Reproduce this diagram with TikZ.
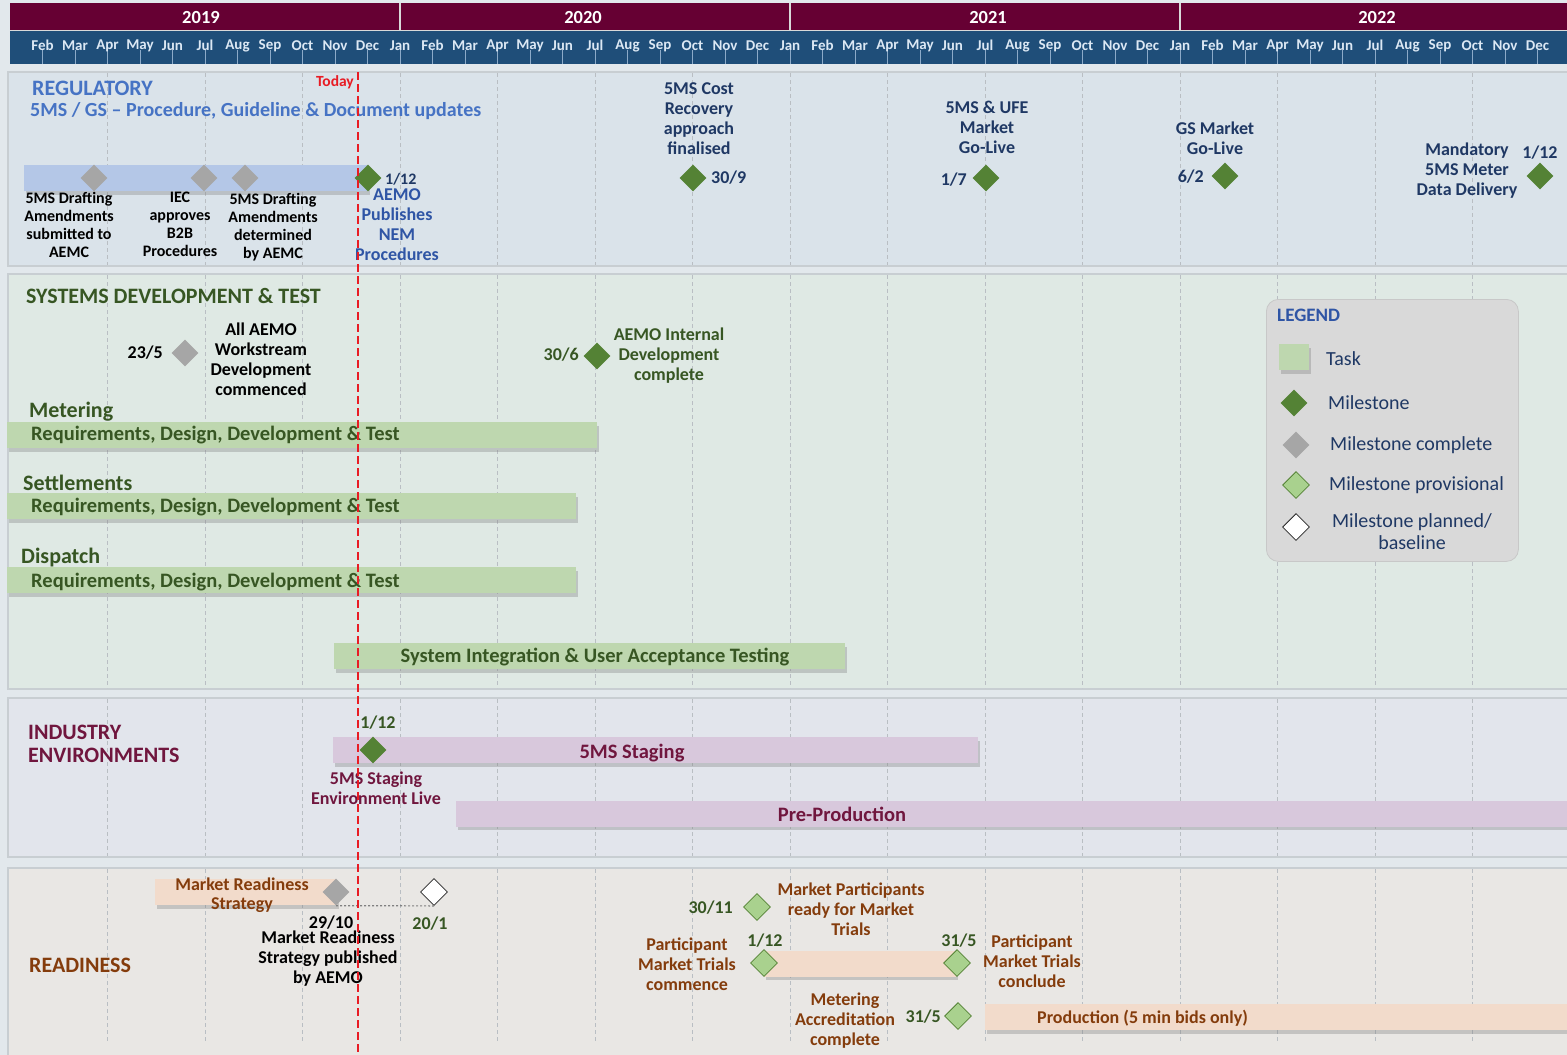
\documentclass[tikz,border=0pt]{standalone}
\usepackage{fontspec}
\setmainfont{Carlito}
\usetikzlibrary{shapes.geometric,shadows}

\definecolor{pagebg}{RGB}{226,232,236}
\definecolor{yearbar}{RGB}{102,0,51}
\definecolor{monthbar}{RGB}{31,78,121}
\definecolor{monthtext}{RGB}{220,232,244}
\definecolor{monthtick}{RGB}{140,170,200}
\definecolor{regfill}{RGB}{218,227,234}
\definecolor{sysfill}{RGB}{223,233,228}
\definecolor{indfill}{RGB}{226,229,236}
\definecolor{rdyfill}{RGB}{233,231,228}
\definecolor{laneline}{RGB}{200,206,210}
\definecolor{gridline}{RGB}{185,190,195}
\definecolor{todayred}{RGB}{232,28,36}
\definecolor{regblue}{RGB}{70,115,196}
\definecolor{pubblue}{RGB}{47,85,165}
\definecolor{navy}{RGB}{31,56,100}
\definecolor{dkgreen}{RGB}{55,86,35}
\definecolor{txtmaroon}{RGB}{112,22,62}
\definecolor{txtbrown}{RGB}{132,60,12}
\definecolor{msgreen}{RGB}{84,130,53}
\definecolor{msgrey}{RGB}{166,166,166}
\definecolor{provgreen}{RGB}{169,209,142}
\definecolor{bluebar}{RGB}{180,199,231}
\definecolor{greenbar}{RGB}{190,215,175}
\definecolor{lilacbar}{RGB}{216,200,220}
\definecolor{peachbar}{RGB}{242,219,203}
\definecolor{legendfill}{RGB}{217,217,217}
\definecolor{legline}{RGB}{200,200,200}

\begin{document}
\begin{tikzpicture}[x=1pt,y=-1pt,
  every node/.style={inner sep=0pt,align=center},
  head/.style={font=\bfseries\fontsize{22}{23}\selectfont,anchor=west,align=left},
  lbl/.style={font=\bfseries\fontsize{18}{20}\selectfont},
  small/.style={font=\bfseries\fontsize{16}{18}\selectfont},
  datelbl/.style={font=\bfseries\fontsize{18}{20}\selectfont},
  barlbl/.style={font=\bfseries\fontsize{20.5}{22}\selectfont},
  legtext/.style={font=\fontsize{20}{22}\selectfont,text=navy,anchor=west},
  ms/.style={diamond,aspect=1,minimum size=27pt},
  msmain/.style={ms,fill=msgreen},
  msdone/.style={ms,fill=msgrey},
  msprov/.style={ms,fill=provgreen,draw=msgreen,line width=0.8pt},
  msplan/.style={ms,fill=white,draw=black!85,line width=0.8pt},
  task/.style={anchor=west,minimum height=26pt,
    drop shadow={shadow xshift=1.5pt,shadow yshift=-3.5pt,opacity=0.35}},
  lane/.style={draw=laneline,line width=1.5pt},
  qgrid/.style={draw=gridline,dash pattern=on 4pt off 3pt,line width=0.8pt}]

\useasboundingbox[fill=pagebg] (0,0) rectangle (1567,1055);

% time scale
\fill[yearbar] (10,3) rectangle (1567,30);
\fill[monthbar] (10,30) rectangle (1567,64);
\draw[white!70!gray,line width=1pt] (10,30) -- (1567,30);
\foreach \sx in {400,790,1180}
  \draw[white!70!gray,line width=2pt] (\sx,3) -- (\sx,30);
\foreach \yx/\yr in {201/2019,583/2020,988/2021,1377/2022}
  \node[text=white,font=\bfseries\fontsize{18.5}{20}\selectfont] (y\yr) at (\yx,17) {\yr};
\foreach \yr in {0,1,2,3}
  \foreach \mname [count=\k from 0] in {Jan,Feb,Mar,Apr,May,Jun,Jul,Aug,Sep,Oct,Nov,Dec}{
    \pgfmathtruncatemacro\mi{12*\yr+\k}
    \pgfmathsetmacro\mx{10+32.5*\mi}
    \ifnum\mi>0
      \draw[monthtick,line width=0.8pt] (\mx,50) -- (\mx,64);
      \node[text=monthtext,font=\bfseries\fontsize{15}{16}\selectfont] (m\mi) at (\mx,45.5) {\mname};
    \fi
  }

% swim lanes
\path[lane,fill=regfill] (8,72) rectangle (1570,266);
\path[lane,fill=sysfill] (8,274) rectangle (1570,689);
\path[lane,fill=indfill] (8,698) rectangle (1570,857);
\path[lane,fill=rdyfill] (8,868) rectangle (1570,1060);
\foreach \top/\bot in {73/265,275/688,699/856,869/1042}
  \foreach \q in {1,...,15}
    \draw[qgrid] ({10+97.5*\q},\top) -- ({10+97.5*\q},\bot);

% regulatory
\node[head,text=regblue] (reghead) at (32,88) {REGULATORY};
\node[anchor=west,text=regblue,font=\bfseries\fontsize{20}{22}\selectfont] (regsub) at (30,111)
  {5MS / GS – Procedure, Guideline \& Document updates};
\node[task,fill=bluebar,minimum width=344pt] (regbar) at (24,178) {};
\node[msdone] (draftsub) at (94,178) {};
\node[msdone] (iecb2b) at (204,178) {};
\node[msdone] (draftdet) at (245,178) {};
\node[msmain] (nempub) at (368,178) {};
\node[anchor=west,text=navy,font=\bfseries\fontsize{16}{18}\selectfont] (nempubdate) at (385,179) {1/12};
\node[lbl,text=pubblue] (nempublbl) at (397,225) {AEMO\\Publishes\\NEM\\Procedures};
\node[small] (draftsublbl) at (69,224.5) {5MS Drafting\\Amendments\\submitted to\\AEMC};
\node[small] (iecb2blbl) at (180,224.5) {IEC\\approves\\B2B\\Procedures};
\node[small] (draftdetlbl) at (273,227) {5MS Drafting\\Amendments\\determined\\by AEMC};

\node[lbl,text=navy] (costlbl) at (699,119) {5MS Cost\\Recovery\\approach\\finalised};
\node[msmain] (cost) at (693,178) {};
\node[datelbl,text=navy,anchor=west] (costdate) at (711,178) {30/9};
\node[lbl,text=navy] (golivelbl) at (987,127.5) {5MS \& UFE\\Market\\Go-Live};
\node[msmain] (golive) at (986,178) {};
\node[datelbl,text=navy,anchor=east] (golivedate) at (967,180) {1/7};
\node[lbl,text=navy] (gslbl) at (1215,138) {GS Market\\Go-Live};
\node[msmain] (gs) at (1225,176) {};
\node[datelbl,text=navy,anchor=east] (gsdate) at (1204,177) {6/2};
\node[lbl,text=navy] (mdlbl) at (1467,171) {Mandatory\\5MS Meter\\Data Delivery};
\node[datelbl,text=navy] (mddate) at (1540,153) {1/12};
\node[msmain] (md) at (1540,176) {};

% systems development & test
\node[head,text=dkgreen] (syshead) at (26,296) {SYSTEMS DEVELOPMENT \& TEST};
\node[datelbl,anchor=east] (wsdate) at (163,353) {23/5};
\node[msdone] (ws) at (185,353) {};
\node[lbl] (wslbl) at (261,359) {All AEMO\\Workstream\\Development\\commenced};
\node[datelbl,text=dkgreen,anchor=east] (devdate) at (579,355) {30/6};
\node[msmain] (dev) at (597,356) {};
\node[lbl,text=dkgreen] (devlbl) at (669,356) {AEMO Internal\\Development\\complete};

\node[head,text=dkgreen] (methead) at (29,412) {Metering};
\node[task,fill=greenbar,minimum width=590pt] (metbar) at (7,435) {};
\node[barlbl,text=dkgreen,anchor=west] (metlbl) at (31,435) {Requirements, Design, Development \& Test};
\node[head,text=dkgreen] (sethead) at (23,483) {Settlements};
\node[task,fill=greenbar,minimum width=569pt] (setbar) at (7,506) {};
\node[barlbl,text=dkgreen,anchor=west] (setlbl) at (31,507) {Requirements, Design, Development \& Test};
\node[head,text=dkgreen] (disphead) at (21,558) {Dispatch};
\node[task,fill=greenbar,minimum width=569pt] (dispbar) at (7,580) {};
\node[barlbl,text=dkgreen,anchor=west] (displbl) at (31,582) {Requirements, Design, Development \& Test};
\node[task,fill=greenbar,minimum width=511pt] (sitbar) at (334,656) {};
\node[barlbl,text=dkgreen] (sitlbl) at (595,657) {System Integration \& User Acceptance Testing};

% legend
\node[draw=legline,fill=legendfill,rounded corners=12pt,line width=0.8pt,
  minimum width=252pt,minimum height=262pt,anchor=north west] (legend) at (1266,299) {};
\node[anchor=west,text=pubblue,font=\bfseries\fontsize{19}{22}\selectfont] (leghead) at (1277,315) {LEGEND};
\node[task,fill=greenbar,minimum width=30pt] (legtask) at (1279,357) {};
\node[legtext] (legtasklbl) at (1326,359) {Task};
\node[msmain] (legms) at (1294,403) {};
\node[legtext] (legmslbl) at (1328,403) {Milestone};
\node[msdone] (legdone) at (1296,445) {};
\node[legtext] (legdonelbl) at (1330,445) {Milestone complete};
\node[msprov] (legprov) at (1296,485) {};
\node[legtext] (legprovlbl) at (1329,485) {Milestone provisional};
\node[msplan] (legplan) at (1296,527) {};
\node[legtext,anchor=center] (legplanlbl) at (1412,532) {Milestone planned/\\baseline};

% industry environments
\node[head,text=txtmaroon] (indhead) at (28,743.5) {INDUSTRY\\ENVIRONMENTS};
\node[datelbl,text=dkgreen] (stagedate) at (378,723) {1/12};
\node[task,fill=lilacbar,minimum width=645pt] (stagebar) at (333,750) {};
\node[barlbl,text=txtmaroon] (stagelbl) at (632,753) {5MS Staging};
\node[msmain] (stage) at (373,750) {};
\node[lbl,text=txtmaroon] (stagelivelbl) at (376,788) {5MS Staging\\Environment Live};
\node[task,fill=lilacbar,minimum width=1111pt] (preprodbar) at (456,813.5) {};
\node[barlbl,text=txtmaroon] (preprodlbl) at (842,814) {Pre-Production};

% readiness
\node[head,text=txtbrown] (rdyhead) at (29,965) {READINESS};
\node[task,fill=peachbar,minimum width=182pt] (mrsbar) at (155,892) {};
\node[text=txtbrown,font=\bfseries\fontsize{18}{19.5}\selectfont] (mrslbl) at (242,895) {Market Readiness\\Strategy};
\node[msdone] (mrs) at (336,892) {};
\node[msplan] (mrsbase) at (434,892) {};
\draw[gray,line width=1.2pt,dash pattern=on 2pt off 2pt] (mrs.south) -- (mrsbase.south);
\node[datelbl] (mrsdate) at (331,923) {29/10};
\node[datelbl,text=dkgreen] (mrsbasedate) at (430,924) {20/1};
\node[lbl] (mrspublbl) at (328,959) {Market Readiness\\Strategy published\\by AEMO};

\node[datelbl,text=dkgreen,anchor=east] (readydate) at (733,908) {30/11};
\node[msprov] (ready) at (757,907) {};
\node[lbl,text=txtbrown] (readylbl) at (851,909) {Market Participants\\ready for Market\\Trials};
\node[task,fill=peachbar,minimum width=192pt] (trialbar) at (764,963.5) {};
\node[msprov] (trialstart) at (764,963) {};
\node[msprov] (trialend) at (957,963) {};
\node[datelbl,text=dkgreen] (trialstartdate) at (765,941) {1/12};
\node[datelbl,text=dkgreen] (trialenddate) at (959,941) {31/5};
\node[lbl,text=txtbrown] (trialstartlbl) at (687,964) {Participant\\Market Trials\\commence};
\node[lbl,text=txtbrown] (trialendlbl) at (1032,961.5) {Participant\\Market Trials\\conclude};
\node[lbl,text=txtbrown] (acclbl) at (845,1021) {Metering\\Accreditation\\complete};
\node[datelbl,text=dkgreen,anchor=east] (accdate) at (941,1017) {31/5};
\node[msprov] (acc) at (958,1016) {};
\node[task,fill=peachbar,minimum width=585pt] (prodbar) at (985,1017) {};
\node[text=txtbrown,anchor=west,font=\bfseries\fontsize{18}{20}\selectfont] (prodlbl) at (1037,1018) {Production (5 min bids only)};

% today
\node[anchor=east,text=todayred,font=\bfseries\fontsize{15.5}{17}\selectfont] (todaylbl) at (354,82) {Today};
\coordinate (todaytop) at (358,72);
\coordinate (todaybot) at (358,1055);
\draw[todayred,line width=1.6pt,dash pattern=on 8pt off 4pt] (todaytop) -- (todaybot);
\end{tikzpicture}
\end{document}
